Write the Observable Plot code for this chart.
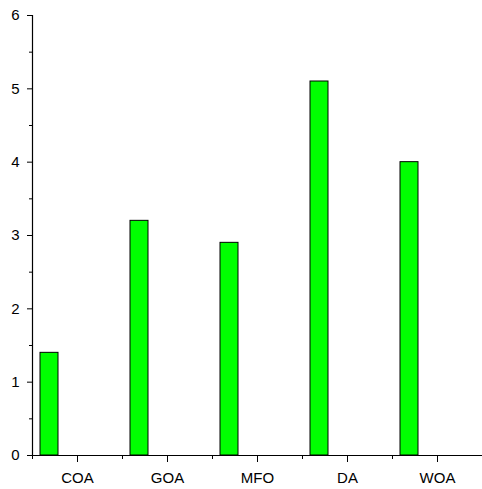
<!DOCTYPE html>
<html><head><meta charset="utf-8">
<script src="https://cdn.jsdelivr.net/npm/d3@7"></script>
<script src="https://cdn.jsdelivr.net/npm/@observablehq/plot@0.6"></script>
<style>body{margin:0;background:#fff;} svg{font-family:"Liberation Sans",Arial,sans-serif;}</style>
</head><body><div id="chart"></div>
<script>
const categories = ["COA", "GOA", "MFO", "DA", "WOA"];
const values = [1.4, 3.2, 2.9, 5.1, 4.0];
const yMajorTicks = [0, 1, 2, 3, 4, 5, 6];
const yMinorTicks = [0.5, 1.5, 2.5, 3.5, 4.5, 5.5];

const data = categories.map((c, i) => ({cat: c, i, v: values[i]}));
const xCenters = categories.map((c, i) => i + 0.5);
const xEdges = categories.map((c, i) => i);

const chart = Plot.plot({
  width: 482, height: 489,
  marginLeft: 32, marginRight: 0, marginTop: 15, marginBottom: 34,
  style: {fontSize: "15px", fontFamily: "'Liberation Sans', Arial, sans-serif", color: "#000"},
  x: {type: "linear", domain: [0, categories.length], axis: null},
  y: {domain: [0, 6], axis: null},
  marks: [
    Plot.rectY(data, {x1: d => d.i, x2: d => d.i + 1, y: "v", fill: "#00ff00", stroke: "#000", strokeWidth: 1, insetLeft: 8, insetRight: 64}),
    Plot.axisX({ticks: xCenters, tickSize: 7, tickPadding: 10, tickFormat: d => categories[Math.floor(d)], label: null, fontSize: 15}),
    Plot.axisX({ticks: xEdges, tickSize: 4, tickFormat: () => "", label: null}),
    Plot.axisY({ticks: yMajorTicks, tickSize: 5, tickPadding: 8, tickFormat: d3.format("d"), label: null, fontSize: 15}),
    Plot.axisY({ticks: yMinorTicks, tickSize: 3, tickFormat: () => "", label: null}),
    Plot.ruleY([0], {stroke: "#000", strokeWidth: 1.2}),
    Plot.ruleX([0], {y1: 0, y2: 6, stroke: "#000", strokeWidth: 1.2})
  ]
});
document.getElementById("chart").appendChild(chart);
</script></body></html>
